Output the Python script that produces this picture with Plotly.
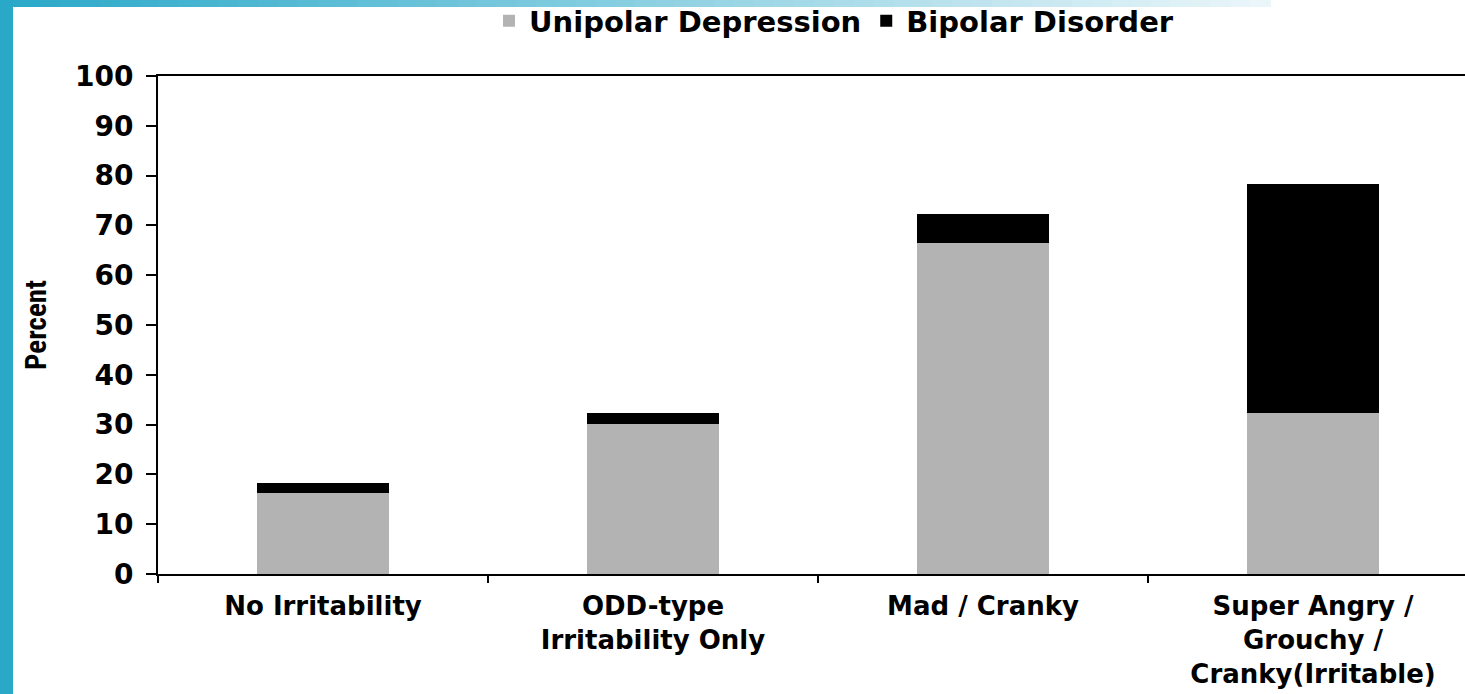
import plotly.graph_objects as go

# stacked bars: share of youth with each irritability type, split by later diagnosis

categories = ["No Irritability", "ODD-type<br>Irritability Only", "Mad / Cranky",
              "Super Angry /<br>Grouchy /<br>Cranky(Irritable)"]
unipolar = [16.3, 30.1, 66.4, 32.4]
bipolar = [2.0, 2.2, 5.9, 45.9]
series_names = ["Unipolar Depression", "Bipolar Disorder"]
y_ticks = [0, 10, 20, 30, 40, 50, 60, 70, 80, 90, 100]

W, H = 1465, 694
L, R, T, B = 158, 0, 76, 120
pw, ph = W - L - R, H - T - B


def px_x(x):
    # pixel column -> paper x
    return (x - L) / pw


def px_y(y):
    # pixel row -> paper y
    return (H - B - y) / ph


font_main = dict(family="DejaVu Sans", size=28, color="black", weight="bold")

fig = go.Figure()
fig.add_trace(go.Bar(x=categories, y=unipolar, name=series_names[0],
                     marker=dict(color="#b3b3b3", line=dict(width=0)), width=0.4))
fig.add_trace(go.Bar(x=categories, y=bipolar, name=series_names[1],
                     marker=dict(color="black", line=dict(width=0)), width=0.4))

# slide decoration: teal strip on the left and a fading bar along the top
shapes = []
c0 = (42, 169, 201)
c1 = (235, 246, 250)
steps = 64
x_end = 1270
for i in range(steps):
    t = i / (steps - 1)
    col = tuple(int(c0[k] + (c1[k] - c0[k]) * t) for k in range(3))
    xa = x_end * i / steps
    xb = x_end * (i + 1) / steps + 1
    shapes.append(dict(type="rect", xref="paper", yref="paper", layer="above",
                       x0=px_x(xa), x1=px_x(xb), y0=px_y(7), y1=px_y(0),
                       fillcolor="rgb(%d,%d,%d)" % col, line=dict(width=0)))
shapes.append(dict(type="rect", xref="paper", yref="paper", layer="above",
                   x0=px_x(0), x1=px_x(13), y0=px_y(H), y1=px_y(0),
                   fillcolor="#29a8c8", line=dict(width=0)))

fig.update_layout(
    width=W, height=H,
    margin=dict(l=L, r=R, t=T, b=B, pad=0),
    paper_bgcolor="white",
    plot_bgcolor="white",
    barmode="stack",
    font=font_main,
    shapes=shapes,
    showlegend=True,
    # legend placed against the whole figure so it does not push the plot down
    legend=dict(orientation="h", xref="paper", x=px_x(834), xanchor="center",
                yref="container", y=1 - 21 / H, yanchor="middle",
                traceorder="normal", font=dict(font_main, size=29), itemwidth=30,
                bgcolor="rgba(0,0,0,0)"),
    xaxis=dict(
        range=[-0.5, -0.5 + pw / 330.0],
        showline=True, linecolor="black", linewidth=2, mirror=True,
        ticks="outside", tickson="boundaries", ticklen=7, tickwidth=2, tickcolor="black",
        showgrid=False, tickfont=dict(font_main, size=26), ticklabelstandoff=8,
        automargin=False,
    ),
    yaxis=dict(
        range=[0, 100], tickvals=y_ticks,
        showline=True, linecolor="black", linewidth=2,
        ticks="outside", ticklen=10, tickwidth=2, tickcolor="black",
        showgrid=False, zeroline=False, tickfont=font_main, ticklabelstandoff=7,
        title=dict(text="Percent", standoff=20,
                   font=dict(family="Liberation Sans Narrow, Roboto Condensed, Arial Narrow, sans-serif",
                             size=29, color="black", weight="bold")),
        automargin=False,
    ),
)

fig.write_html("out.html", config={"displayModeBar": False},
               post_script="document.body.style.margin='0';")
